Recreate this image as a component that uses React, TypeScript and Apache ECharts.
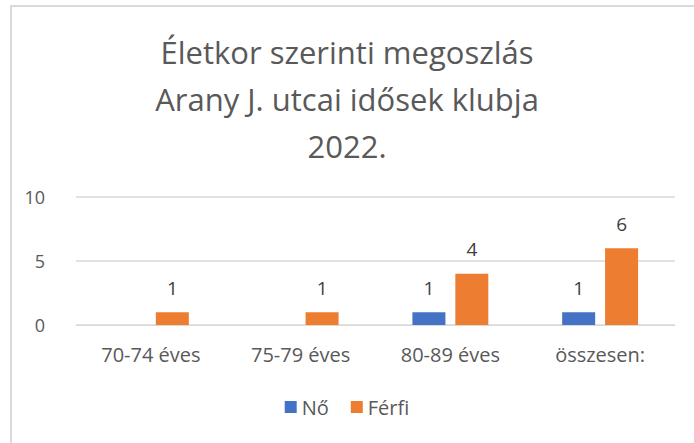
import React, { useEffect, useRef } from "react";
import * as echarts from "echarts";

const categories = ["70-74 éves", "75-79 éves", "80-89 éves", "összesen:"];
const noValues: (number | null)[] = [null, null, 1, 1];
const ferfiValues: number[] = [1, 1, 4, 6];
const yTicks = { min: 0, max: 10, interval: 5 };
const titleLines = ["Életkor szerinti megoszlás", "Arany J. utcai idősek klubja", "2022."];

const FONT = "'Open Sans', 'Noto Sans', sans-serif";
const TEXT = "#595959";

export default function App() {
  const ref = useRef<HTMLDivElement>(null);
  useEffect(() => {
    if (!ref.current) return;
    const chart = echarts.init(ref.current, undefined, { renderer: "svg" });
    const labelStyle = {
      show: true,
      position: "top" as const,
      distance: 15,
      color: "#404040",
      fontSize: 19,
      fontFamily: FONT,
    };
    chart.setOption({
      animation: false,
      backgroundColor: "#ffffff",
      textStyle: { fontFamily: FONT },
      graphic: [
        {
          type: "rect",
          shape: { x: 11, y: 6, width: 700, height: 460 },
          style: { fill: "none", stroke: "#d9d9d9", lineWidth: 2 },
          silent: true,
        },
      ],
      title: {
        text: titleLines.join("\n"),
        left: "center",
        top: 23,
        textStyle: {
          fontFamily: FONT,
          fontSize: 31,
          fontWeight: "normal",
          color: TEXT,
          lineHeight: 47,
        },
      },
      legend: {
        bottom: 21,
        left: "center",
        itemWidth: 12,
        itemHeight: 12,
        itemGap: 22,
        icon: "rect",
        textStyle: { color: TEXT, fontSize: 20, fontFamily: FONT },
        data: ["Nő", "Férfi"],
      },
      grid: { left: 76, right: 19, top: 197, bottom: 118 },
      xAxis: {
        type: "category",
        data: categories,
        axisLine: { show: true, lineStyle: { color: "#d9d9d9", width: 1 } },
        axisTick: { show: false },
        axisLabel: { color: TEXT, fontSize: 20, fontFamily: FONT, margin: 19 },
      },
      yAxis: {
        type: "value",
        min: yTicks.min,
        max: yTicks.max,
        interval: yTicks.interval,
        axisLine: { show: false },
        axisTick: { show: false },
        splitLine: { lineStyle: { color: "#d9d9d9", width: 1.5 } },
        axisLabel: { color: TEXT, fontSize: 18, fontFamily: FONT, margin: 31 },
      },
      series: [
        {
          name: "Nő",
          type: "bar",
          data: noValues,
          barWidth: 33,
          barGap: "30%",
          itemStyle: { color: "#4472C4" },
          label: labelStyle,
        },
        {
          name: "Férfi",
          type: "bar",
          data: ferfiValues,
          barWidth: 33,
          barGap: "30%",
          itemStyle: { color: "#ED7D31" },
          label: labelStyle,
        },
      ],
    });
    return () => chart.dispose();
  }, []);
  return (
    <div
      ref={ref}
      style={{ position: "fixed", left: 0, top: 0, width: 694, height: 443 }}
    />
  );
}
